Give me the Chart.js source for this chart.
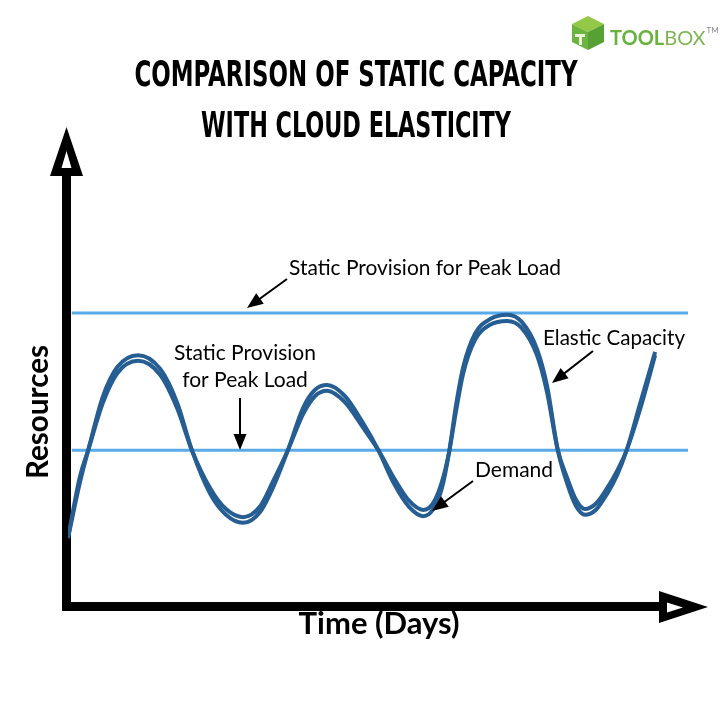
<!DOCTYPE html>
<html>
<head>
<meta charset="utf-8">
<script src="https://cdn.jsdelivr.net/npm/chart.js@4.4.1/dist/chart.umd.min.js"></script>
<style>
  html, body { margin: 0; background: #fff; }
  #wrap { width: 720px; height: 720px; }
</style>
</head>
<body>
<div id="wrap"><canvas id="chart" width="720" height="720"></canvas></div>
<script>
// time (arbitrary units along the axis) and resource levels
let days = [0, 1.9, 3.2, 5.5, 7.8, 11.1, 14.6, 17.3, 19.6, 22.5, 25.0, 27.7, 30.4, 32.4, 34.8,
            37.2, 39.1, 41.0, 43.8, 46.5, 49.1, 51.6, 54.0, 56.2, 57.8, 59.2, 60.3, 61.4, 62.5, 64.4,
            66.8, 69.5, 71.8, 74.2, 75.8, 77.5, 79.0, 80.4, 81.8, 83.5, 85.3, 86.9, 88.4, 90.5, 92.9];
let elastic = [14.1, 25.9, 32.6, 43.8, 50.1, 52.6, 49.7, 42.5, 32.6, 23.4, 19.0, 17.3, 19.6, 24.6, 32.6,
               41.5, 45.3, 46.3, 44.0, 38.7, 32.6, 25.5, 20.6, 18.7, 20.2, 24.8, 32.2, 42.1, 49.9, 57.1,
               60.2, 61.1, 59.6, 53.9, 46.1, 32.6, 25.5, 20.8, 19.0, 20.0, 23.4, 27.4, 32.6, 42.3, 53.3];
let demand = [14.1, 27.1, 32.6, 42.5, 48.8, 51.4, 48.4, 41.3, 32.6, 24.6, 20.2, 18.5, 20.8, 25.9, 32.6,
              40.2, 44.0, 45.1, 42.7, 37.7, 32.6, 26.7, 21.9, 20.0, 21.5, 26.1, 32.2, 40.8, 48.6, 55.8,
              59.0, 59.8, 58.3, 52.6, 44.8, 32.6, 26.7, 22.1, 20.2, 21.3, 24.6, 28.3, 32.6, 41.1, 52.6];

let lineDays = [0.6, 98.1];
let peakProvision = [61.5, 61.5];
let baseProvision = [32.6, 32.6];

const DARK = "#265d92";
const LIGHT = "#5aaae8";

function pts(xs, ys) {
  return xs.map((x, i) => ({ x, y: ys[i] }));
}

// little arrow used by the notes
function arrow(ctx, x1, y1, x2, y2) {
  let a = Math.atan2(y2 - y1, x2 - x1);
  let len = 16, w = 6.5;
  ctx.strokeStyle = "#000";
  ctx.fillStyle = "#000";
  ctx.lineWidth = 2;
  ctx.beginPath();
  ctx.moveTo(x1, y1);
  ctx.lineTo(x2 - Math.cos(a) * len * 0.8, y2 - Math.sin(a) * len * 0.8);
  ctx.stroke();
  ctx.beginPath();
  ctx.moveTo(x2, y2);
  ctx.lineTo(x2 - Math.cos(a) * len - Math.sin(a) * w, y2 - Math.sin(a) * len + Math.cos(a) * w);
  ctx.lineTo(x2 - Math.cos(a) * len + Math.sin(a) * w, y2 - Math.sin(a) * len - Math.cos(a) * w);
  ctx.closePath();
  ctx.fill();
}

// AXES (thick arrows)
const axesPlugin = {
  id: "axes",
  beforeDatasetsDraw(chart) {
    let ctx = chart.ctx;
    ctx.save();
    ctx.fillStyle = "#000";
    ctx.fillRect(62, 170, 9, 441);
    ctx.fillRect(62, 602, 600, 9);

    ctx.beginPath();
    ctx.moveTo(66.5, 127); ctx.lineTo(83, 176); ctx.lineTo(50, 176);
    ctx.closePath(); ctx.fill();
    ctx.beginPath();
    ctx.moveTo(708, 607); ctx.lineTo(659, 623); ctx.lineTo(659, 591);
    ctx.closePath(); ctx.fill();

    ctx.fillStyle = "#fff";
    ctx.beginPath();
    ctx.moveTo(66.5, 151); ctx.lineTo(71.5, 168); ctx.lineTo(61.5, 168);
    ctx.closePath(); ctx.fill();
    ctx.beginPath();
    ctx.moveTo(683, 607.5); ctx.lineTo(667, 602.5); ctx.lineTo(667, 612.5);
    ctx.closePath(); ctx.fill();
    ctx.restore();
  }
};

// TEXT, NOTES, LOGO
const notesPlugin = {
  id: "notes",
  afterDraw(chart) {
    let ctx = chart.ctx;
    ctx.save();

    // title
    ctx.fillStyle = "#000";
    ctx.textAlign = "center";
    ctx.textBaseline = "alphabetic";
    ctx.font = "bold 35px 'DejaVu Sans Condensed'";
    ctx.fillText("COMPARISON OF STATIC CAPACITY", 356, 86, 443);
    ctx.fillText("WITH CLOUD ELASTICITY", 356, 137, 310);

    // axis titles
    ctx.font = "bold 31px Lato";
    ctx.fillText("Time (Days)", 379, 634, 162);
    ctx.save();
    ctx.translate(48, 412);
    ctx.rotate(-Math.PI / 2);
    ctx.fillText("Resources", 0, 0, 134);
    ctx.restore();

    // notes
    ctx.font = "21px Lato";
    ctx.textAlign = "left";
    ctx.fillText("Static Provision for Peak Load", 289, 275, 272);
    ctx.textAlign = "center";
    ctx.fillText("Static Provision", 245, 360);
    ctx.fillText("for Peak Load", 245, 387);
    ctx.textAlign = "left";
    ctx.fillText("Elastic Capacity", 543, 345, 142);
    ctx.fillText("Demand", 475, 477, 78);

    arrow(ctx, 287, 279, 247, 308);
    arrow(ctx, 240, 398, 240, 450);
    arrow(ctx, 593, 351, 552, 383);
    arrow(ctx, 473, 481, 432, 511);

    // logo
    ctx.fillStyle = "#93c947";
    ctx.beginPath();
    ctx.moveTo(588, 16); ctx.lineTo(604, 24); ctx.lineTo(588, 32); ctx.lineTo(572, 24);
    ctx.closePath(); ctx.fill();
    ctx.fillStyle = "#6db33f";
    ctx.beginPath();
    ctx.moveTo(572, 24); ctx.lineTo(588, 32); ctx.lineTo(588, 50); ctx.lineTo(572, 42);
    ctx.closePath(); ctx.fill();
    ctx.fillStyle = "#57a033";
    ctx.beginPath();
    ctx.moveTo(588, 32); ctx.lineTo(604, 24); ctx.lineTo(604, 42); ctx.lineTo(588, 50);
    ctx.closePath(); ctx.fill();
    ctx.fillStyle = "#e8f3dc";
    ctx.fillRect(575, 34, 10, 3);
    ctx.fillRect(579, 35, 3, 10);

    ctx.textAlign = "left";
    ctx.font = "bold 20px Lato";
    ctx.fillStyle = "#6ab23e";
    ctx.fillText("TOOL", 610, 45);
    let w = ctx.measureText("TOOL").width;
    ctx.font = "20px Lato";
    ctx.fillStyle = "#7fb552";
    ctx.fillText("BOX", 610 + w, 45);
    let w2 = ctx.measureText("BOX").width;
    ctx.font = "8px Lato";
    ctx.fillStyle = "#888";
    ctx.fillText("TM", 611 + w + w2, 33);

    ctx.restore();
  }
};

new Chart(document.getElementById("chart"), {
  type: "line",
  data: {
    datasets: [
      { label: "Elastic Capacity", data: pts(days, elastic), borderColor: DARK, borderWidth: 4, cubicInterpolationMode: "monotone", order: 0 },
      { label: "Demand", data: pts(days, demand), borderColor: DARK, borderWidth: 4, cubicInterpolationMode: "monotone", order: 0 },
      { label: "Static Provision for Peak Load", data: pts(lineDays, peakProvision), borderColor: LIGHT, borderWidth: 3, order: 1 },
      { label: "Static Provision", data: pts(lineDays, baseProvision), borderColor: LIGHT, borderWidth: 3, order: 1 }
    ]
  },
  options: {
    responsive: false,
    animation: false,
    layout: { padding: { left: 68, right: 20, top: 130, bottom: 115 } },
    elements: { point: { radius: 0 } },
    scales: {
      x: { type: "linear", min: 0, max: 100, display: false },
      y: { min: 0, max: 100, display: false }
    },
    plugins: { legend: { display: false }, tooltip: { enabled: false } }
  },
  plugins: [axesPlugin, notesPlugin]
});
</script>
</body>
</html>
